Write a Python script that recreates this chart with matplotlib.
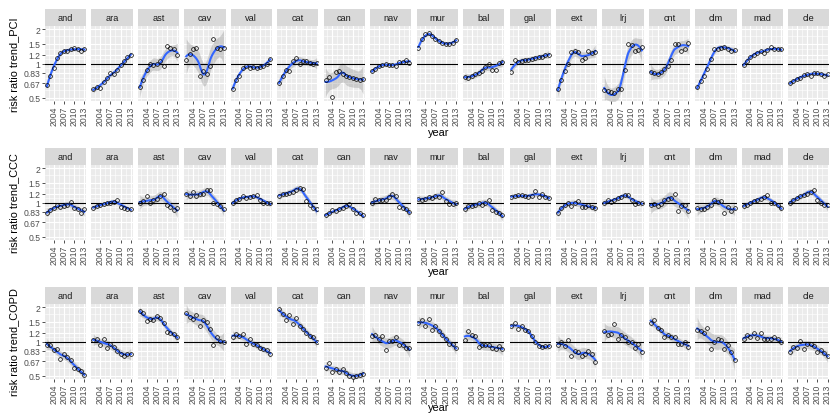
import numpy as np
import matplotlib
matplotlib.use("Agg")
import matplotlib.pyplot as plt
from matplotlib.ticker import NullFormatter

plt.rcParams['font.family'] = ['Liberation Sans', 'DejaVu Sans']

# ------------------- data -------------------
years = list(range(2002, 2014))
regions = ["and", "ara", "ast", "cav", "val", "cat", "can", "nav", "mur",
           "bal", "gal", "ext", "lrj", "cnt", "clm", "mad", "cle"]
y_breaks = [0.5, 0.67, 0.83, 1, 1.2, 1.5, 2]
y_labels = ["0.5", "0.67", "0.83", "1", "1.2", "1.5", "2"]
x_breaks = [2004, 2007, 2010, 2013]

pci = [
    [0.64, 0.77, 0.91, 1.12, 1.24, 1.28, 1.28, 1.33, 1.36, 1.33, 1.30, 1.35],  # and
    [0.59, 0.62, 0.61, 0.68, 0.74, 0.82, 0.80, 0.88, 0.97, 1.05, 1.13, 1.18],  # ara
    [0.62, 0.72, 0.88, 0.98, 0.97, 0.98, 1.05, 0.95, 1.43, 1.38, 1.35, 1.18],  # ast
    [1.08, 1.22, 1.35, 1.38, 0.78, 0.85, 0.80, 0.95, 1.65, 1.38, 1.35, 1.38],  # cav
    [0.60, 0.72, 0.78, 0.92, 0.95, 0.92, 0.93, 0.92, 0.93, 0.95, 1.00, 1.10],  # val
    [0.67, 0.78, 0.88, 0.85, 1.05, 1.12, 1.00, 1.05, 1.05, 1.02, 0.98, 1.02],  # cat
    [0.71, 0.76, 0.505, 0.84, 0.85, 0.80, 0.78, 0.76, 0.75, 0.73, 0.71, 0.73],  # can
    [0.85, 0.90, 0.95, 0.97, 0.98, 0.97, 0.97, 0.96, 1.03, 1.03, 1.08, 1.02],  # nav
    [1.36, 1.65, 1.84, 1.85, 1.75, 1.66, 1.58, 1.52, 1.50, 1.50, 1.52, 1.61],  # mur
    [0.76, 0.75, 0.78, 0.80, 0.82, 0.85, 0.93, 0.99, 0.88, 0.88, 1.02, 1.04],  # bal
    [0.84, 1.07, 1.03, 1.05, 1.07, 1.08, 1.10, 1.12, 1.14, 1.15, 1.18, 1.20],  # gal
    [0.60, 0.71, 0.85, 0.98, 1.26, 1.29, 1.26, 1.07, 1.12, 1.30, 1.23, 1.26],  # ext
    [0.58, 0.575, 0.56, 0.55, 0.59, 0.60, 0.88, 1.50, 1.45, 1.30, 1.32, 1.41],  # lrj
    [0.84, 0.82, 0.80, 0.84, 0.90, 0.96, 1.08, 1.50, 1.48, 1.30, 1.33, 1.53],  # cnt
    [0.62, 0.70, 0.78, 0.90, 1.10, 1.33, 1.35, 1.36, 1.41, 1.34, 1.29, 1.32],  # clm
    [0.97, 1.06, 1.14, 1.20, 1.25, 1.29, 1.25, 1.32, 1.40, 1.33, 1.33, 1.33],  # mad
    [0.67, 0.70, 0.73, 0.74, 0.79, 0.81, 0.77, 0.83, 0.83, 0.80, 0.77, 0.80],  # cle
]

ccc = [
    [0.81, 0.86, 0.90, 0.95, 0.92, 0.93, 0.95, 1.02, 0.89, 0.87, 0.80, 0.87],
    [0.90, 0.93, 0.95, 0.97, 0.98, 1.00, 1.02, 1.05, 0.92, 0.90, 0.88, 0.88],
    [0.98, 1.04, 1.13, 0.98, 1.05, 1.08, 1.15, 1.20, 0.95, 0.91, 0.85, 0.90],
    [1.19, 1.15, 1.23, 1.15, 1.18, 1.20, 1.29, 1.29, 1.00, 0.97, 0.93, 0.87],
    [0.98, 1.06, 1.08, 1.15, 1.09, 1.11, 1.14, 1.16, 1.06, 1.00, 1.00, 0.98],
    [1.15, 1.19, 1.20, 1.22, 1.25, 1.30, 1.35, 1.32, 1.04, 0.96, 0.90, 0.87],
    [0.77, 0.80, 0.85, 0.84, 0.87, 0.90, 0.93, 0.97, 0.87, 0.80, 0.80, 0.77],
    [0.98, 1.07, 1.05, 1.05, 1.06, 1.11, 1.19, 1.15, 0.91, 0.90, 0.87, 0.83],
    [1.07, 1.06, 1.08, 1.12, 1.10, 1.13, 1.12, 1.23, 1.04, 0.97, 0.97, 1.00],
    [0.87, 0.93, 0.94, 0.96, 0.98, 0.95, 1.00, 1.05, 0.85, 0.82, 0.81, 0.77],
    [1.11, 1.15, 1.16, 1.17, 1.13, 1.12, 1.15, 1.26, 1.12, 1.18, 1.12, 1.10],
    [0.80, 0.90, 0.96, 1.00, 0.93, 1.00, 1.04, 0.91, 0.91, 0.95, 0.91, 0.89],
    [0.98, 1.05, 1.02, 1.06, 1.09, 1.11, 1.17, 1.17, 1.05, 0.97, 1.00, 1.00],
    [0.95, 0.97, 0.93, 0.97, 1.05, 1.07, 1.09, 1.19, 0.84, 0.93, 0.95, 0.84],
    [0.89, 0.87, 0.87, 0.92, 0.95, 1.05, 1.02, 1.04, 0.80, 0.91, 0.84, 0.90],
    [0.93, 0.96, 1.00, 1.03, 1.06, 1.07, 1.11, 1.17, 0.98, 0.98, 0.95, 0.89],
    [1.00, 1.06, 1.09, 1.13, 1.16, 1.20, 1.25, 1.29, 1.05, 1.00, 0.96, 0.95],
]

copd = [
    [0.93, 0.93, 0.84, 0.86, 0.70, 0.77, 0.73, 0.69, 0.58, 0.57, 0.55, 0.51],
    [1.03, 1.05, 0.93, 1.06, 0.87, 0.96, 0.90, 0.82, 0.78, 0.75, 0.77, 0.78],
    [1.85, 1.79, 1.52, 1.59, 1.54, 1.67, 1.62, 1.46, 1.22, 1.20, 1.16, 1.09],
    [1.77, 1.65, 1.59, 1.70, 1.38, 1.54, 1.49, 1.29, 0.93, 1.10, 1.01, 1.00],
    [1.10, 1.16, 1.12, 1.16, 0.95, 1.05, 0.95, 0.93, 0.88, 0.85, 0.84, 0.78],
    [1.92, 1.75, 1.56, 1.70, 1.43, 1.61, 1.38, 1.29, 1.20, 1.12, 1.09, 0.98],
    [0.58, 0.65, 0.54, 0.57, 0.54, 0.57, 0.53, 0.50, 0.49, 0.50, 0.51, 0.52],
    [1.12, 1.15, 1.05, 1.12, 0.84, 1.01, 1.01, 1.10, 0.93, 0.93, 0.88, 0.87],
    [1.45, 1.54, 1.36, 1.57, 1.27, 1.38, 1.25, 1.15, 1.06, 0.95, 0.95, 0.87],
    [1.03, 1.23, 1.15, 1.12, 0.90, 0.93, 0.93, 0.93, 0.88, 0.85, 0.91, 0.85],
    [1.36, 1.45, 1.29, 1.37, 1.27, 1.25, 1.12, 1.00, 0.91, 0.89, 0.91, 0.91],
    [0.93, 0.98, 0.91, 1.03, 0.75, 0.82, 0.81, 0.75, 0.78, 0.83, 0.77, 0.66],
    [1.25, 1.15, 1.16, 1.43, 1.06, 1.15, 1.10, 1.00, 0.98, 0.87, 0.95, 0.80],
    [1.45, 1.56, 1.32, 1.27, 1.10, 1.15, 1.10, 1.09, 0.96, 0.95, 1.00, 0.90],
    [1.27, 1.25, 1.18, 1.31, 0.86, 1.00, 1.06, 1.03, 0.85, 0.93, 0.81, 0.68],
    [1.05, 1.15, 1.09, 1.18, 1.07, 1.18, 1.05, 1.05, 1.06, 1.10, 1.05, 0.98],
    [0.81, 0.90, 0.88, 1.01, 0.85, 0.96, 0.96, 0.92, 0.80, 0.84, 0.79, 0.74],
]

rows = [("risk ratio trend_PCI", pci),
        ("risk ratio trend_CCC", ccc),
        ("risk ratio trend_COPD", copd)]


def t975(df):
    # Cornish-Fisher approximation of the 97.5% t quantile
    z = 1.959964
    return (z + (z**3 + z) / (4 * df) + (5 * z**5 + 16 * z**3 + 3 * z) / (96 * df**2)
            + (3 * z**7 + 19 * z**5 + 17 * z**3 - 15 * z) / (384 * df**3))


def loess(x, y, xs, span=0.75):
    """local quadratic fit with tricube weights, like R loess / geom_smooth"""
    n = len(x)
    q = int(np.floor(n * span))

    def lrow(x0):
        d = np.abs(x - x0)
        ds = np.sort(d)
        h = ds[q - 1] if q >= n else 0.5 * (ds[q - 1] + ds[q])
        u = np.clip(d / h, 0, 1)
        w = (1 - u**3)**3
        X = np.column_stack([np.ones(n), x - x0, (x - x0)**2])
        XtW = X.T * w
        return np.linalg.solve(XtW @ X, XtW)[0]

    L = np.array([lrow(v) for v in x])
    res = y - L @ y
    M = (np.eye(n) - L).T @ (np.eye(n) - L)
    d1 = np.trace(M)
    d2 = np.trace(M @ M)
    sigma = np.sqrt(res @ res / d1)
    Ls = np.array([lrow(v) for v in xs])
    fit = Ls @ y
    se = sigma * np.sqrt((Ls**2).sum(1))
    tq = t975(d1**2 / d2)
    return fit, fit - tq * se, fit + tq * se


# ------------------- layout (pixels) -------------------
W, H = 833, 414
fig = plt.figure(figsize=(W / 100, H / 100), dpi=100)

left0, pw, pitch = 45, 41.2, 46.45
strip_h, panel_h = 17, 75
row_top = [10, 149, 288]
year_y = [133, 272, 408]

x_arr = np.array(years, dtype=float)
xs = np.linspace(x_arr.min(), x_arr.max(), 80)
xlim = (2002 - 0.55, 2013 + 0.55)
ylim = (0.5 * 10**(-0.0301), 2 * 10**0.0301)

y_log = np.log(y_breaks)
y_minor = list(np.exp((y_log[:-1] + y_log[1:]) / 2))
x_minor = [2002.5, 2005.5, 2008.5, 2011.5]


def fx(px):
    return px / W


def fy(py):
    return 1 - py / H


for r, (ylab, data) in enumerate(rows):
    top = row_top[r]
    for i, reg in enumerate(regions):
        left = left0 + i * pitch
        # strip
        sax = fig.add_axes([fx(left), fy(top + strip_h), pw / W, strip_h / H])
        sax.set_facecolor('#D9D9D9')
        sax.set_xticks([])
        sax.set_yticks([])
        for s in sax.spines.values():
            s.set_visible(False)
        sax.text(0.5, 0.5, reg, ha='center', va='center', fontsize=6.6,
                 color='#1A1A1A', transform=sax.transAxes)

        # panel
        ax = fig.add_axes([fx(left), fy(top + strip_h + panel_h), pw / W, panel_h / H])
        ax.set_facecolor('#EBEBEB')
        for s in ax.spines.values():
            s.set_visible(False)
        ax.set_yscale('log')
        ax.set_xlim(*xlim)
        ax.set_ylim(*ylim)
        ax.set_yticks(y_breaks)
        ax.set_yticks(y_minor, minor=True)
        ax.set_xticks(x_breaks)
        ax.set_xticks(x_minor, minor=True)
        ax.yaxis.set_minor_formatter(NullFormatter())
        ax.grid(which='major', color='white', lw=0.8)
        ax.grid(which='minor', color='white', lw=0.4)
        ax.set_axisbelow(True)
        ax.tick_params(which='minor', length=0)
        ax.tick_params(which='major', length=2.2, width=0.6, color='#333333',
                       labelsize=6.2, labelcolor='#4D4D4D', pad=1.2)
        ax.set_xticklabels([str(b) for b in x_breaks], rotation=90)
        if i == 0:
            ax.set_yticklabels(y_labels)
        else:
            ax.tick_params(axis='y', which='major', length=0, labelleft=False)

        yv = np.array(data[i])
        fit, lo, hi = loess(x_arr, np.log(yv), xs)
        ax.fill_between(xs, np.exp(lo), np.exp(hi), color='#999999', alpha=0.4,
                        lw=0, zorder=2)
        ax.axhline(1, color='black', lw=0.8, zorder=3)
        ax.plot(xs, np.exp(fit), color='#3366FF', lw=1.5, zorder=4)
        ax.plot(x_arr, yv, 'o', ms=2.7, mfc='none', mec='black', mew=0.5, zorder=5)

    # axis titles for this row
    fig.text(fx(14), fy(top + strip_h + panel_h / 2), ylab, rotation=90,
             ha='center', va='center', fontsize=7.9, color='black')
    fig.text(fx(439), fy(year_y[r]), "year", ha='center', va='center',
             fontsize=7.9, color='black')

fig.savefig("out.png", dpi=100)
